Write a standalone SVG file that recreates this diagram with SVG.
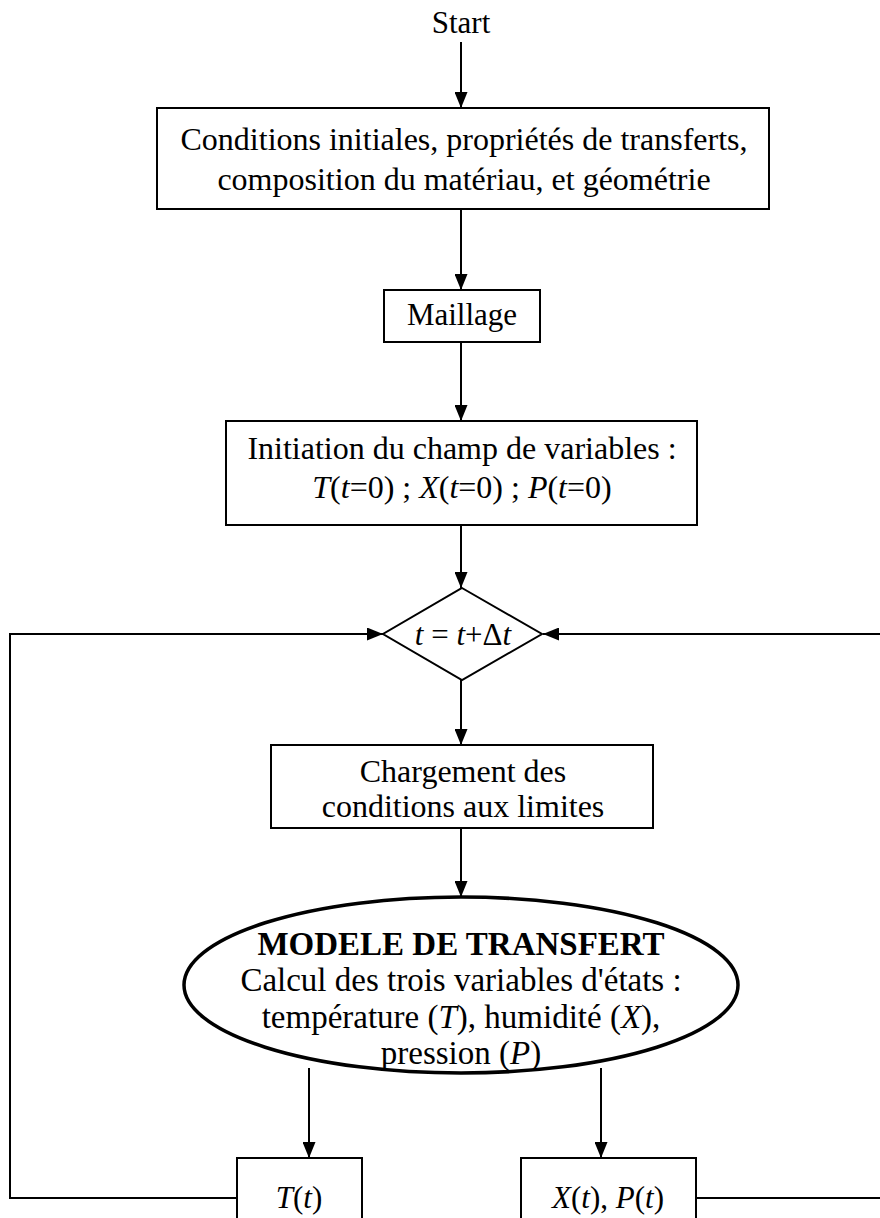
<svg xmlns="http://www.w3.org/2000/svg" width="880" height="1218" viewBox="0 0 880 1218">
  <style>
    text { font-family: "Liberation Serif", "Times New Roman", serif; font-size: 32px; fill: #000; text-anchor: middle; }
    .it { font-style: italic; }
    .b { font-weight: bold; }
    .sm { font-size: 31px; }
    .lg { font-size: 33px; }
    .box { fill: #fff; stroke: #000; stroke-width: 2; }
    .ell { fill: #fff; stroke: #000; stroke-width: 3.5; }
    .wire { fill: none; stroke: #000; stroke-width: 2; }
  </style>
  <defs>
    <marker id="arrow" viewBox="0 0 16 13" refX="16" refY="6.5" markerWidth="16" markerHeight="13" markerUnits="userSpaceOnUse" orient="auto">
      <path d="M0,0 L16,6.5 L0,13 Z" fill="#000"/>
    </marker>
  </defs>
  <rect width="880" height="1218" fill="#fff"/>

  <!-- connectors -->
  <g id="connectors">
    <line class="wire" x1="461" y1="42" x2="461" y2="108" marker-end="url(#arrow)"/>
    <line class="wire" x1="461" y1="209" x2="461" y2="290" marker-end="url(#arrow)"/>
    <line class="wire" x1="461" y1="342" x2="461" y2="421" marker-end="url(#arrow)"/>
    <line class="wire" x1="461" y1="525" x2="461" y2="588" marker-end="url(#arrow)"/>
    <line class="wire" x1="461" y1="680" x2="461" y2="745" marker-end="url(#arrow)"/>
    <line class="wire" x1="461" y1="828" x2="461" y2="897" marker-end="url(#arrow)"/>
    <line class="wire" x1="309" y1="1068" x2="309" y2="1158" marker-end="url(#arrow)"/>
    <line class="wire" x1="601" y1="1068" x2="601" y2="1158" marker-end="url(#arrow)"/>
    <!-- feedback loops to the time step -->
    <polyline class="wire" points="237,1198 10,1198 10,634 383,634" marker-end="url(#arrow)"/>
    <polyline class="wire" points="696,1198 880,1198" />
    <polyline class="wire" points="880,634 543,634" marker-end="url(#arrow)"/>
  </g>

  <g id="start">
    <text class="sm" x="461" y="33">Start</text>
  </g>

  <g id="conditions">
    <rect class="box" x="157" y="108" width="612" height="101"/>
    <text x="464" y="150">Conditions initiales, propriétés de transferts,</text>
    <text x="464" y="190">composition du matériau, et géométrie</text>
  </g>

  <g id="maillage">
    <rect class="box" x="384" y="290" width="156" height="52"/>
    <text class="sm" x="462" y="325">Maillage</text>
  </g>

  <g id="initiation">
    <rect class="box" x="226" y="421" width="471" height="104"/>
    <text x="462" y="459">Initiation du champ de variables :</text>
    <text x="462" y="498"><tspan class="it">T</tspan>(<tspan class="it">t</tspan>=0) ; <tspan class="it">X</tspan>(<tspan class="it">t</tspan>=0) ; <tspan class="it">P</tspan>(<tspan class="it">t</tspan>=0)</text>
  </g>

  <g id="pas-de-temps">
    <polygon class="box" points="462,588 542,634 462,680 383,634"/>
    <text class="sm" x="463" y="645"><tspan class="it">t</tspan> = <tspan class="it">t</tspan>+Δ<tspan class="it">t</tspan></text>
  </g>

  <g id="chargement">
    <rect class="box" x="271" y="745" width="382" height="83"/>
    <text x="463" y="782">Chargement des</text>
    <text x="463" y="817">conditions aux limites</text>
  </g>

  <g id="modele">
    <ellipse class="ell" cx="461" cy="985" rx="277" ry="88"/>
    <text class="b lg" x="461" y="955">MODELE DE TRANSFERT</text>
    <text class="lg" x="461" y="991">Calcul des trois variables d'états :</text>
    <text class="lg" x="461" y="1028">température (<tspan class="it">T</tspan>), humidité (<tspan class="it">X</tspan>),</text>
    <text class="lg" x="461" y="1064">pression (<tspan class="it">P</tspan>)</text>
  </g>

  <g id="sortie-T">
    <rect class="box" x="237" y="1158" width="125" height="80"/>
    <text class="sm" x="299" y="1208"><tspan class="it">T</tspan>(<tspan class="it">t</tspan>)</text>
  </g>

  <g id="sortie-XP">
    <rect class="box" x="521" y="1158" width="175" height="80"/>
    <text class="sm" x="608" y="1208"><tspan class="it">X</tspan>(<tspan class="it">t</tspan>), <tspan class="it">P</tspan>(<tspan class="it">t</tspan>)</text>
  </g>
</svg>
